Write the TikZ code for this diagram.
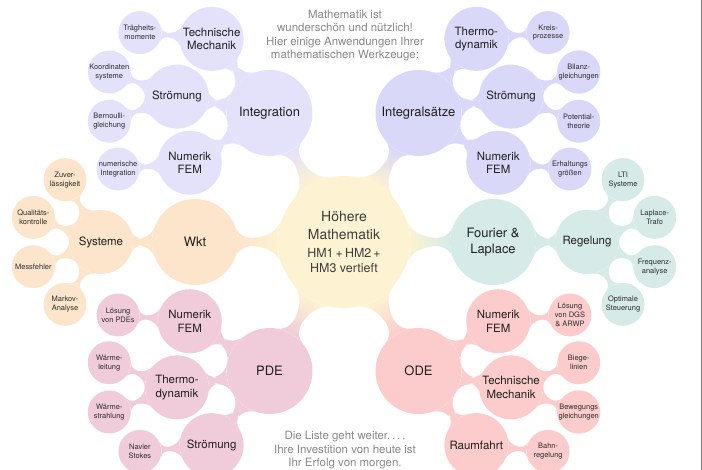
\documentclass[tikz,border=0pt]{standalone}
\usepackage{fontspec}
\setmainfont{TeX Gyre Heros}
\usetikzlibrary{mindmap,backgrounds,calc}
\definecolor{cCen}{RGB}{253,242,210}
\definecolor{cInt}{RGB}{227,226,250}
\definecolor{cIgs}{RGB}{218,216,249}
\definecolor{cWkt}{RGB}{253,229,204}
\definecolor{cFou}{RGB}{214,235,232}
\definecolor{cPde}{RGB}{240,204,218}
\definecolor{cOde}{RGB}{252,204,204}
\definecolor{txt}{RGB}{30,30,30}
\definecolor{notegray}{RGB}{135,135,135}
\newcommand\mmconn[4]{\path (#1) to[circle connection bar switch color=from (#3) to (#4)] (#2);}
\newcommand\hmsize{\fontsize{12.5}{15}\selectfont}
\begin{document}
\begin{tikzpicture}[x=1bp,y=1bp,
  mmbase/.style={circle, inner sep=0pt, align=center, text=txt},
  mmroot/.style={mmbase, minimum size=132bp, fill=cCen, text={rgb,255:red,60;green,60;blue,60}, font=\fontsize{14}{17.5}\selectfont},
  mmone/.style={mmbase, minimum size=86bp, font=\fontsize{13}{15.5}\selectfont},
  mmtwo/.style={mmbase, minimum size=64bp, font=\fontsize{11.5}{13.5}\selectfont},
  mmthree/.style={mmbase, minimum size=43bp, font=\fontsize{7.5}{9}\selectfont, text={rgb,255:red,45;green,45;blue,45}},
  mmnote/.style={align=center, text=notegray, font=\fontsize{11.5}{13.5}\selectfont}]
\useasboundingbox (0,0) rectangle (702,470);
% root
\node[mmroot] (c) at (344,228) {Höhere\\Mathematik\\[1pt]{\hmsize HM1\,+\,HM2\,+}\\[-3pt]{\hmsize HM3 vertieft}};
% level 1
\node[mmone, fill=cInt] (int) at ($(c)+(120:149)$) {Integration};
\node[mmone, fill=cIgs] (igs) at ($(c)+(60:149)$) {Integralsätze};
\node[mmone, fill=cWkt] (wkt) at ($(c)+(180:149)$) {Wkt};
\node[mmone, fill=cFou] (fou) at ($(c)+(0:149)$) {Fourier \&\\Laplace};
\node[mmone, fill=cPde] (pde) at ($(c)+(240:149)$) {PDE};
\node[mmone, fill=cOde] (ode) at ($(c)+(300:149)$) {ODE};
% level 2
\node[mmtwo, fill=cInt] (intTM) at ($(int)+(128:94)$) {Technische\\Mechanik};
\node[mmtwo, fill=cInt] (intSt) at ($(int)+(170:94)$) {Strömung};
\node[mmtwo, fill=cInt] (intNu) at ($(int)+(212:94)$) {Numerik\\FEM};
\node[mmtwo, fill=cIgs] (igsTh) at ($(igs)+(52:94)$) {Thermo-\\dynamik};
\node[mmtwo, fill=cIgs] (igsSt) at ($(igs)+(10:94)$) {Strömung};
\node[mmtwo, fill=cIgs] (igsNu) at ($(igs)+(-32:94)$) {Numerik\\FEM};
\node[mmtwo, fill=cWkt] (wktSy) at ($(wkt)+(180:94)$) {Systeme};
\node[mmtwo, fill=cFou] (fouRe) at ($(fou)+(0:94)$) {Regelung};
\node[mmtwo, fill=cPde] (pdeNu) at ($(pde)+(148:94)$) {Numerik\\FEM};
\node[mmtwo, fill=cPde] (pdeTh) at ($(pde)+(190:94)$) {Thermo-\\dynamik};
\node[mmtwo, fill=cPde] (pdeSt) at ($(pde)+(232:94)$) {Strömung};
\node[mmtwo, fill=cOde] (odeNu) at ($(ode)+(32:94)$) {Numerik\\FEM};
\node[mmtwo, fill=cOde] (odeTM) at ($(ode)+(-10:94)$) {Technische\\Mechanik};
\node[mmtwo, fill=cOde] (odeRa) at ($(ode)+(-52:94)$) {Raumfahrt};
% level 3
\node[mmthree, fill=cInt] (t1) at ($(intTM)+(175:72)$) {Trägheits-\\momente};
\node[mmthree, fill=cInt] (t2) at ($(intSt)+(160:72)$) {Koordinaten\\systeme};
\node[mmthree, fill=cInt] (t3) at ($(intSt)+(200:72)$) {Bernoulli-\\gleichung};
\node[mmthree, fill=cInt] (t4) at ($(intNu)+(185:72)$) {numerische\\Integration};
\node[mmthree, fill=cIgs] (t5) at ($(igsTh)+(5:72)$) {Kreis-\\prozesse};
\node[mmthree, fill=cIgs] (t6) at ($(igsSt)+(20:72)$) {Bilanz-\\gleichungen};
\node[mmthree, fill=cIgs] (t7) at ($(igsSt)+(-20:72)$) {Potential-\\theorie};
\node[mmthree, fill=cIgs] (t8) at ($(igsNu)+(-5:72)$) {Erhaltungs\\größen};
\node[mmthree, fill=cWkt] (t9) at ($(wktSy)+(120:72)$) {Zuver-\\lässigkeit};
\node[mmthree, fill=cWkt] (t10) at ($(wktSy)+(160:72)$) {Qualitäts-\\kontrolle};
\node[mmthree, fill=cWkt] (t11) at ($(wktSy)+(200:72)$) {Messfehler};
\node[mmthree, fill=cWkt] (t12) at ($(wktSy)+(240:72)$) {Markov-\\Analyse};
\node[mmthree, fill=cFou] (t13) at ($(fouRe)+(60:72)$) {LTI\\Systeme};
\node[mmthree, fill=cFou] (t14) at ($(fouRe)+(20:72)$) {Laplace-\\Trafo};
\node[mmthree, fill=cFou] (t15) at ($(fouRe)+(-20:72)$) {Frequenz-\\analyse};
\node[mmthree, fill=cFou] (t16) at ($(fouRe)+(-60:72)$) {Optimale\\Steuerung};
\node[mmthree, fill=cPde] (t17) at ($(pdeNu)+(175:72)$) {Lösung\\von PDEs};
\node[mmthree, fill=cPde] (t18) at ($(pdeTh)+(160:72)$) {Wärme-\\leitung};
\node[mmthree, fill=cPde] (t19) at ($(pdeTh)+(200:72)$) {Wärme-\\strahlung};
\node[mmthree, fill=cPde] (t20) at ($(pdeSt)+(185:72)$) {Navier\\Stokes};
\node[mmthree, fill=cOde] (t21) at ($(odeNu)+(5:72)$) {Lösung\\von DGS\\\& ARWP};
\node[mmthree, fill=cOde] (t22) at ($(odeTM)+(20:72)$) {Biege-\\linien};
\node[mmthree, fill=cOde] (t23) at ($(odeTM)+(-20:72)$) {Bewegungs\\gleichungen};
\node[mmthree, fill=cOde] (t24) at ($(odeRa)+(-5:72)$) {Bahn-\\regelung};
% notes
\node[mmnote] (n1) at (345,434.5) {Mathematik ist\\wunderschön und nützlich!\\Hier einige Anwendungen Ihrer\\mathematischen Werkzeuge:};
\node[mmnote] (n2) at (345,19.5) {Die Liste geht weiter.\,.\,.\,.\\Ihre Investition von heute ist\\Ihr Erfolg von morgen.};
% connections
\begin{scope}[on background layer]
\mmconn{c}{int}{cCen}{cInt}
\mmconn{c}{igs}{cCen}{cIgs}
\mmconn{c}{wkt}{cCen}{cWkt}
\mmconn{c}{fou}{cCen}{cFou}
\mmconn{c}{pde}{cCen}{cPde}
\mmconn{c}{ode}{cCen}{cOde}
\mmconn{int}{intTM}{cInt}{cInt}
\mmconn{int}{intSt}{cInt}{cInt}
\mmconn{int}{intNu}{cInt}{cInt}
\mmconn{igs}{igsTh}{cIgs}{cIgs}
\mmconn{igs}{igsSt}{cIgs}{cIgs}
\mmconn{igs}{igsNu}{cIgs}{cIgs}
\mmconn{wkt}{wktSy}{cWkt}{cWkt}
\mmconn{fou}{fouRe}{cFou}{cFou}
\mmconn{pde}{pdeNu}{cPde}{cPde}
\mmconn{pde}{pdeTh}{cPde}{cPde}
\mmconn{pde}{pdeSt}{cPde}{cPde}
\mmconn{ode}{odeNu}{cOde}{cOde}
\mmconn{ode}{odeTM}{cOde}{cOde}
\mmconn{ode}{odeRa}{cOde}{cOde}
\mmconn{intTM}{t1}{cInt}{cInt}
\mmconn{intSt}{t2}{cInt}{cInt}
\mmconn{intSt}{t3}{cInt}{cInt}
\mmconn{intNu}{t4}{cInt}{cInt}
\mmconn{igsTh}{t5}{cIgs}{cIgs}
\mmconn{igsSt}{t6}{cIgs}{cIgs}
\mmconn{igsSt}{t7}{cIgs}{cIgs}
\mmconn{igsNu}{t8}{cIgs}{cIgs}
\mmconn{wktSy}{t9}{cWkt}{cWkt}
\mmconn{wktSy}{t10}{cWkt}{cWkt}
\mmconn{wktSy}{t11}{cWkt}{cWkt}
\mmconn{wktSy}{t12}{cWkt}{cWkt}
\mmconn{fouRe}{t13}{cFou}{cFou}
\mmconn{fouRe}{t14}{cFou}{cFou}
\mmconn{fouRe}{t15}{cFou}{cFou}
\mmconn{fouRe}{t16}{cFou}{cFou}
\mmconn{pdeNu}{t17}{cPde}{cPde}
\mmconn{pdeTh}{t18}{cPde}{cPde}
\mmconn{pdeTh}{t19}{cPde}{cPde}
\mmconn{pdeSt}{t20}{cPde}{cPde}
\mmconn{odeNu}{t21}{cOde}{cOde}
\mmconn{odeTM}{t22}{cOde}{cOde}
\mmconn{odeTM}{t23}{cOde}{cOde}
\mmconn{odeRa}{t24}{cOde}{cOde}
\end{scope}
\draw[gray, line width=0.8bp] (701.4,0) -- (701.4,470);
\end{tikzpicture}
\end{document}
